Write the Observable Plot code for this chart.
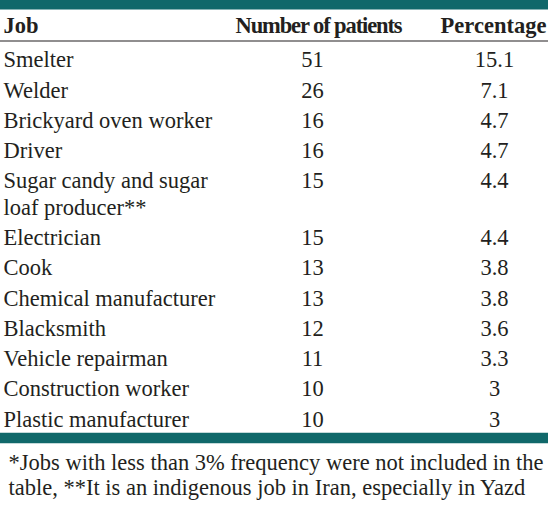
<!DOCTYPE html>
<html>
<head>
<meta charset="utf-8">
<script src="https://cdn.jsdelivr.net/npm/d3@7"></script>
<script src="https://cdn.jsdelivr.net/npm/@observablehq/plot@0.6"></script>
<style>
  html, body { margin: 0; padding: 0; background: #fff; }
  #chart svg { display: block; }
</style>
</head>
<body>
<div id="chart"></div>
<script>
// ---- data ----
const headers = ["Job", "Number of patients", "Percentage"];
const jobs = [
  "Smelter",
  "Welder",
  "Brickyard oven worker",
  "Driver",
  "Sugar candy and sugar\nloaf producer**",
  "Electrician",
  "Cook",
  "Chemical manufacturer",
  "Blacksmith",
  "Vehicle repairman",
  "Construction worker",
  "Plastic manufacturer"
];
const patients = ["51", "26", "16", "16", "15", "15", "13", "13", "12", "11", "10", "10"];
const percentages = ["15.1", "7.1", "4.7", "4.7", "4.4", "4.4", "3.8", "3.8", "3.6", "3.3", "3", "3"];
const footnote = "*Jobs with less than 3% frequency were not included in the\ntable, **It is an indigenous job in Iran, especially in Yazd";

// ---- layout (styling, not data) ----
const W = 548, H = 505;
const FONT = "'Times New Roman', Times, 'Liberation Serif', 'DejaVu Serif', serif";
const FS = 22.5;
const teal = "#10686a";
const ink = "#231f20";
const headerBaseline = 30;
const firstRowBaseline = 64;
const rowPitch = 30.25;
const extraLine = 26.5;
const asc = 0.71 * FS; // Plot lineAnchor "top" offset
const colX = {[headers[0]]: 3, [headers[1]]: 312, [headers[2]]: 494};
const headerX = {[headers[0]]: 3, [headers[1]]: 318, [headers[2]]: 493};

// compute row top positions from the data (line counts)
let extra = 0;
const rows = jobs.map((job, i) => {
  const nLines = job.split("\n").length;
  const base = firstRowBaseline + i * rowPitch + extra;
  extra += (nLines - 1) * extraLine;
  return {job, patients: patients[i], pct: percentages[i], top: base - asc};
});
const lastBaseline = firstRowBaseline + (jobs.length - 1) * rowPitch + extra;

const cells = [];
rows.forEach(r => {
  cells.push({col: headers[0], text: r.job, top: r.top});
  cells.push({col: headers[1], text: r.patients, top: r.top});
  cells.push({col: headers[2], text: r.pct, top: r.top});
});
const headerCells = headers.map(h => ({col: h, text: h, top: headerBaseline - asc}));

const bodyText = (data, opts) => Plot.text(data, Object.assign({
  x: d => colX[d.col], y: "top", text: "text", lineAnchor: "top", fontSize: FS,
  fontFamily: FONT, lineHeight: extraLine / FS, fill: ink
}, opts));

const bands = [
  {x1: 0, x2: W, y1: 0, y2: 9.5},
  {x1: 0, x2: W, y1: lastBaseline + 9.5, y2: lastBaseline + 20}
];

const chart = Plot.plot({
  width: W,
  height: H,
  margin: 0,
  style: {background: "#fff", fontFamily: FONT},
  x: {type: "identity", axis: null},
  y: {type: "identity", axis: null},
  marks: [
    Plot.rect(bands, {x1: "x1", x2: "x2", y1: "y1", y2: "y2", fill: teal}),
    Plot.ruleY([headerBaseline + 10.5], {x1: 0, x2: W, stroke: ink, strokeWidth: 1.2}),
    bodyText(headerCells.filter(d => d.col === headers[0]), {x: d => headerX[d.col], textAnchor: "start", fontWeight: "bold"}),
    bodyText(headerCells.filter(d => d.col !== headers[0]), {x: d => headerX[d.col], textAnchor: "middle", fontWeight: "bold"}),
    bodyText(cells.filter(d => d.col === headers[0]), {textAnchor: "start", fontWeight: "normal"}),
    bodyText(cells.filter(d => d.col !== headers[0]), {textAnchor: "middle", fontWeight: "normal"}),
    Plot.text([footnote], {
      x: () => colX[headers[0]] + 5, y: () => lastBaseline + 44 - asc, text: d => d,
      lineAnchor: "top", textAnchor: "start", fontSize: FS, fontFamily: FONT,
      fontWeight: "normal", lineHeight: 25 / FS, fill: ink
    })
  ]
});
// the reference's bold header for the count column is set tighter
d3.select(chart).selectAll("text").filter(function () { return this.textContent === headers[1]; })
  .style("letter-spacing", "-1.1px");
document.getElementById("chart").appendChild(chart);
</script>
</body>
</html>
